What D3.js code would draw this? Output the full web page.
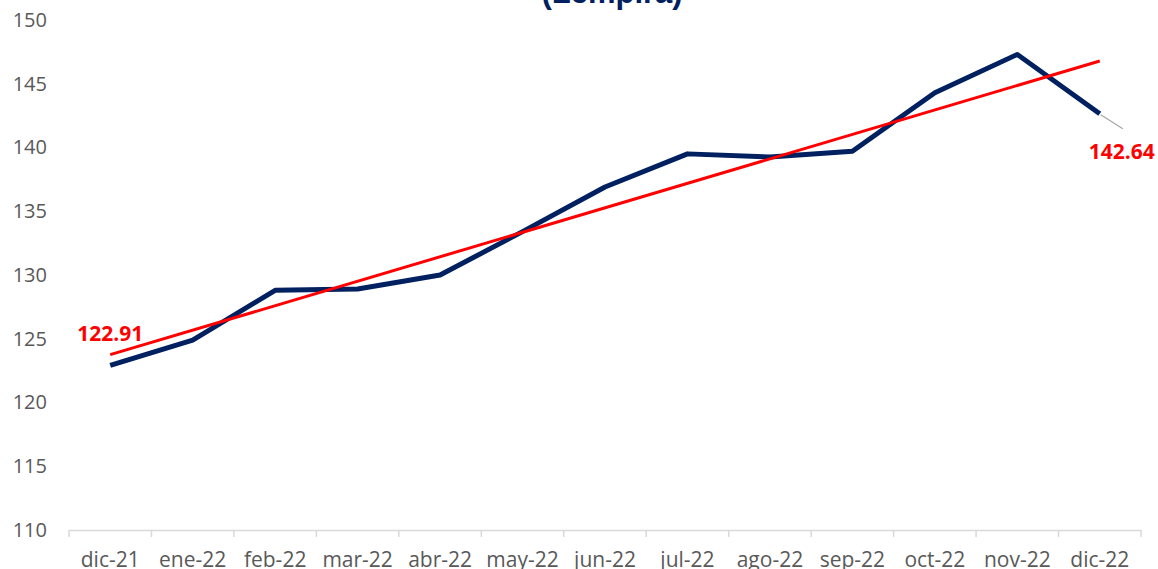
<!DOCTYPE html>
<html>
<head>
<meta charset="utf-8">
<script src="https://cdn.jsdelivr.net/npm/d3@7"></script>
<style>
  body { margin: 0; background: #fff; }
  svg { display: block; }
</style>
</head>
<body>
<div id="chart"></div>
<script>
const months = ['dic-21', 'ene-22', 'feb-22', 'mar-22', 'abr-22', 'may-22', 'jun-22',
  'jul-22', 'ago-22', 'sep-22', 'oct-22', 'nov-22', 'dic-22'];
const values = [122.91, 124.9, 128.8, 128.9, 130.0, 133.4, 136.9,
  139.5, 139.25, 139.7, 144.3, 147.3, 142.64];
const yTicks = [110, 115, 120, 125, 130, 135, 140, 145, 150];
const title = '(Lempira)';

const width = 1158;
const height = 569;
const margin = { top: 20, bottom: 39, left: 69, right: 17 };

const svg = d3.select('#chart')
  .append('svg')
  .attr('width', width)
  .attr('height', height);

const x = d3.scaleBand()
  .domain(months)
  .range([margin.left, width - margin.right]);

const y = d3.scaleLinear()
  .domain([110, 150])
  .range([height - margin.bottom, margin.top]);

const cx = d => x(d) + x.bandwidth() / 2;

// linear trend line (least squares, like the spreadsheet trendline)
const n = values.length;
const meanI = (n - 1) / 2;
const meanV = d3.mean(values);
const slope = d3.sum(values, (v, i) => (i - meanI) * (v - meanV)) /
  d3.sum(values, (v, i) => (i - meanI) * (i - meanI));
const trend = i => meanV + slope * (i - meanI);

// x axis
const xAxis = svg.append('g')
  .attr('transform', `translate(0,${y(110)})`)
  .call(d3.axisBottom(x).tickSize(0).tickPadding(22));
xAxis.select('.domain').attr('stroke', '#d9d9d9').attr('stroke-width', 1.5);
xAxis.selectAll('text')
  .attr('font-family', 'Open Sans, sans-serif')
  .attr('font-size', '21px')
  .attr('fill', '#595959');
xAxis.selectAll('.bound')
  .data(months.concat(['end']))
  .join('line')
  .attr('class', 'bound')
  .attr('x1', (d, i) => margin.left + i * x.bandwidth())
  .attr('x2', (d, i) => margin.left + i * x.bandwidth())
  .attr('y1', 0)
  .attr('y2', 7)
  .attr('stroke', '#d9d9d9')
  .attr('stroke-width', 1.5);

// y axis
const yAxis = svg.append('g')
  .attr('transform', `translate(${margin.left},0)`)
  .call(d3.axisLeft(y).tickValues(yTicks).tickSize(0).tickPadding(22));
yAxis.select('.domain').remove();
yAxis.selectAll('text')
  .attr('font-family', 'Open Sans, sans-serif')
  .attr('font-size', '20px')
  .attr('fill', '#595959');

// title (partly above the view)
svg.append('text')
  .attr('x', 612)
  .attr('y', 3)
  .attr('text-anchor', 'middle')
  .attr('font-family', 'Liberation Sans, Arial, sans-serif')
  .attr('font-weight', 'bold')
  .attr('font-size', '31px')
  .attr('fill', '#002060')
  .text(title);

// main series
svg.append('path')
  .datum(values)
  .attr('fill', 'none')
  .attr('stroke', '#002060')
  .attr('stroke-width', 5)
  .attr('stroke-linejoin', 'round')
  .attr('d', d3.line()
    .x((d, i) => cx(months[i]))
    .y(d => y(d)));

// trend
svg.append('path')
  .datum([0, n - 1])
  .attr('fill', 'none')
  .attr('stroke', '#ff0000')
  .attr('stroke-width', 3)
  .attr('d', d3.line()
    .x(i => cx(months[i]))
    .y(i => y(trend(i))));

// labels
const last = n - 1;
svg.append('line')
  .attr('x1', cx(months[last]) + 1)
  .attr('y1', y(values[last]) + 1)
  .attr('x2', cx(months[last]) + 23)
  .attr('y2', y(values[last]) + 15)
  .attr('stroke', '#a6a6a6')
  .attr('stroke-width', 1.2);

const lbl = [
  { i: 0, dx: 0, dy: -24 },
  { i: last, dx: 22, dy: 45 }
];
svg.selectAll('.vlabel')
  .data(lbl)
  .join('text')
  .attr('class', 'vlabel')
  .attr('x', d => cx(months[d.i]) + d.dx)
  .attr('y', d => y(values[d.i]) + d.dy)
  .attr('text-anchor', 'middle')
  .attr('font-family', 'Open Sans, sans-serif')
  .attr('font-weight', 'bold')
  .attr('font-size', '21px')
  .attr('fill', '#ff0000')
  .text(d => values[d.i].toFixed(2));
</script>
</body>
</html>
